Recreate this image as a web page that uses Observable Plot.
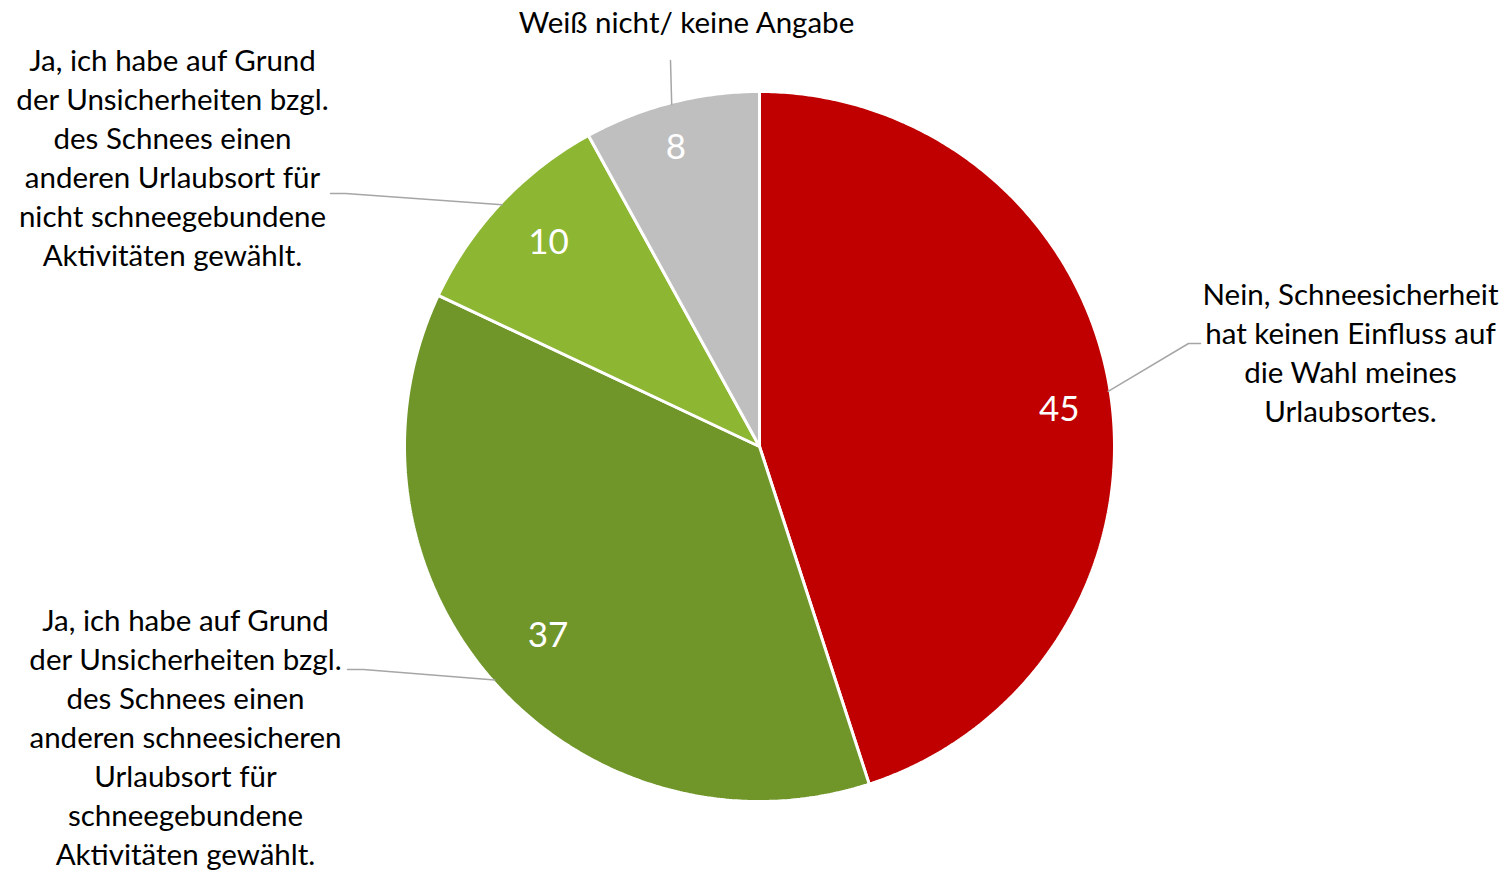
<!DOCTYPE html>
<html>
<head>
<meta charset="utf-8">
<script src="https://cdn.jsdelivr.net/npm/d3@7"></script>
<script src="https://cdn.jsdelivr.net/npm/@observablehq/plot@0.6"></script>
<style>
  html, body { margin: 0; padding: 0; background: #fff; }
  #chart svg { display: block; }
</style>
</head>
<body>
<div id="chart"></div>
<script>
// ---- data ----
const categories = [
  "Nein, Schneesicherheit hat keinen Einfluss auf die Wahl meines Urlaubsortes.",
  "Ja, ich habe auf Grund der Unsicherheiten bzgl. des Schnees einen anderen schneesicheren Urlaubsort für schneegebundene Aktivitäten gewählt.",
  "Ja, ich habe auf Grund der Unsicherheiten bzgl. des Schnees einen anderen Urlaubsort für nicht schneegebundene Aktivitäten gewählt.",
  "Weiß nicht/ keine Angabe"
];
const values = [45, 37, 10, 8];
const labelLines = [
  ["Nein, Schneesicherheit", "hat keinen Einfluss auf", "die Wahl meines", "Urlaubsortes."],
  ["Ja, ich habe auf Grund", "der Unsicherheiten bzgl.", "des Schnees einen", "anderen schneesicheren", "Urlaubsort für", "schneegebundene", "Aktivitäten gewählt."],
  ["Ja, ich habe auf Grund", "der Unsicherheiten bzgl.", "des Schnees einen", "anderen Urlaubsort für", "nicht schneegebundene", "Aktivitäten gewählt."],
  ["Weiß nicht/ keine Angabe"]
];

// ---- style / layout (pixel units relative to pie centre) ----
const colors = ["#C00000", "#70962A", "#8DB633", "#BFBFBF"];
const W = 1506, H = 872, CX = 759, CY = 446, R = 355;
const leaderR = 353;
const valueRadius = [0.851, 0.80, 0.826, 0.873];
const valueAngleShift = [1.97, -0.46, 0.76, -1.23]; // degrees
const labelCenter = [[591, -95], [-574, 289.5], [-587, -290], [-73, -426]];
const leaderBends = [
  [[429, -103], [441, -103]],
  [[-396, 223], [-412, 223]],
  [[-414, -253], [-429, -253]],
  [[-89, -386]]
];

// ---- geometry from data ----
const arcs = d3.pie().sort(null).value(d => d)(values);
const pt = (a, r) => [r * Math.sin(a), -r * Math.cos(a)];

const slicePts = [];
arcs.forEach((a, i) => {
  slicePts.push({cat: categories[i], x: 0, y: 0});
  const n = Math.max(2, Math.ceil((a.endAngle - a.startAngle) / (Math.PI / 360)));
  for (let k = 0; k <= n; k++) {
    const ang = a.startAngle + (a.endAngle - a.startAngle) * k / n;
    const [x, y] = pt(ang, R);
    slicePts.push({cat: categories[i], x, y});
  }
});

const valueLabels = arcs.map((a, i) => {
  const mid = (a.startAngle + a.endAngle) / 2 + valueAngleShift[i] * Math.PI / 180;
  const [x, y] = pt(mid, R * valueRadius[i]);
  return {x, y, text: String(values[i])};
});

const leaderPts = [];
arcs.forEach((a, i) => {
  const mid = (a.startAngle + a.endAngle) / 2;
  const [x, y] = pt(mid, leaderR);
  leaderPts.push({cat: categories[i], x, y});
  leaderBends[i].forEach(([bx, by]) => leaderPts.push({cat: categories[i], x: bx, y: by}));
});

const catLabels = categories.map((c, i) => ({
  x: labelCenter[i][0], y: labelCenter[i][1], text: labelLines[i].join("\n")
}));

const chart = Plot.plot({
  width: W,
  height: H,
  margin: 0,
  style: {fontFamily: "Lato, 'Open Sans', sans-serif", background: "#fff"},
  x: {domain: [-CX, W - CX], range: [0, W], axis: null},
  y: {domain: [-CY, H - CY], range: [0, H], axis: null},
  color: {domain: categories, range: colors},
  marks: [
    Plot.line(slicePts, {x: "x", y: "y", z: "cat", fill: "cat", stroke: "white", strokeWidth: 3, curve: "linear-closed", strokeLinejoin: "miter"}),
    Plot.line(leaderPts, {x: "x", y: "y", z: "cat", stroke: "#A6A6A6", strokeWidth: 1.5}),
    Plot.text(valueLabels, {x: "x", y: "y", text: "text", fill: "white", fontSize: 35}),
    Plot.text(catLabels, {x: "x", y: "y", text: "text", fill: "#000", fontSize: 29.5, lineHeight: 39 / 29.5, lineAnchor: "middle", textAnchor: "middle"})
  ]
});
document.getElementById("chart").appendChild(chart);
</script>
</body>
</html>
